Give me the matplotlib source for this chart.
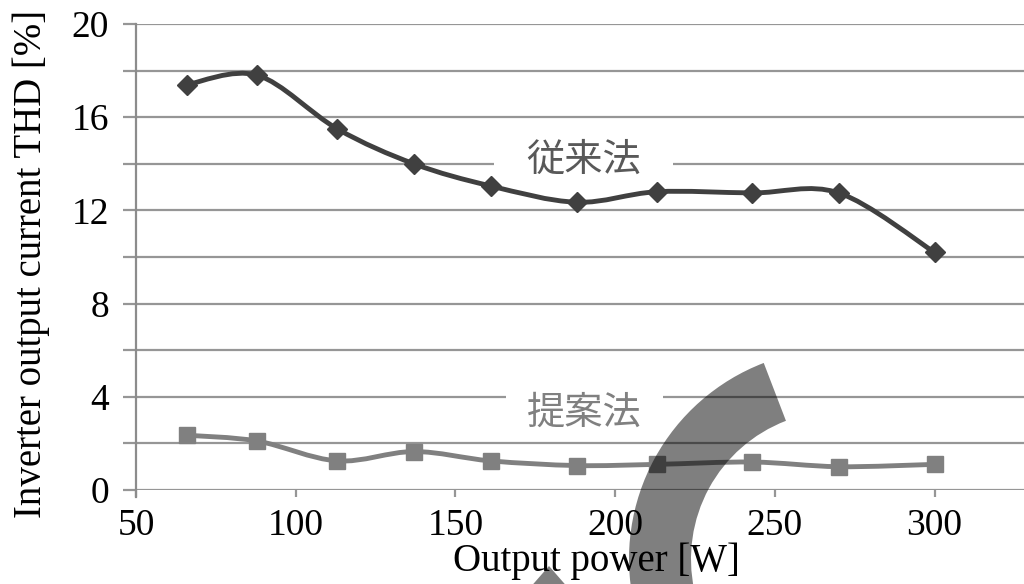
import matplotlib
matplotlib.use("Agg")
import matplotlib.pyplot as plt
from matplotlib.path import Path
from matplotlib.patches import PathPatch, Polygon, Wedge
from matplotlib.transforms import Affine2D

# --- data ---
power = [66, 88, 113, 137, 161, 188, 213, 243, 270, 300]
thd_conventional = [17.4, 17.8, 15.5, 14.0, 13.05, 12.35, 12.8, 12.75, 12.75, 10.2]
thd_proposed = [2.35, 2.1, 1.25, 1.65, 1.25, 1.05, 1.1, 1.2, 1.0, 1.1]
yticks = list(range(0, 21, 2))
xticks = [50, 100, 150, 200, 250, 300]

serif = ["Liberation Serif", "DejaVu Serif"]
cjk = ["Noto Sans CJK JP", "DejaVu Sans"]


def smooth_path(xs, ys):
    # Catmull-Rom style cubic Bezier through the points (like a spreadsheet "smoothed line")
    pts = list(zip(xs, ys))
    verts = [pts[0]]
    codes = [Path.MOVETO]
    n = len(pts)
    for i in range(n - 1):
        p0 = pts[max(i - 1, 0)]
        p1 = pts[i]
        p2 = pts[i + 1]
        p3 = pts[min(i + 2, n - 1)]
        c1 = (p1[0] + (p2[0] - p0[0]) / 6, p1[1] + (p2[1] - p0[1]) / 6)
        c2 = (p2[0] - (p3[0] - p1[0]) / 6, p2[1] - (p3[1] - p1[1]) / 6)
        verts += [c1, c2, p2]
        codes += [Path.CURVE4] * 3
    return Path(verts, codes)


def wide_box(hpad, vpad):
    # white box that is wider than it is padded vertically (only breaks one gridline)
    def box(x0, y0, width, height, mutation_size):
        return Path.unit_rectangle().transformed(
            Affine2D().scale(width + 2 * hpad, height + 2 * vpad)
            .translate(x0 - hpad, y0 - vpad))
    return box


fig = plt.figure(figsize=(10.24, 5.84), dpi=100)
ax = fig.add_axes([136 / 1024, 1 - 490 / 584, 1 - 136 / 1024, (490 - 24) / 584])

ax.set_xlim(50, 328)
ax.set_ylim(0, 20)

ax.set_yticks(yticks)
ax.set_yticklabels([str(v) if v % 4 == 0 else "" for v in yticks])
ax.set_xticks(xticks)

ax.grid(True, axis="y", color="#969696", linewidth=1.6)
ax.set_axisbelow(True)
for name, spine in ax.spines.items():
    spine.set_visible(name == "left")
ax.spines["left"].set_color("#8c8c8c")
ax.spines["left"].set_linewidth(1.6)
ax.spines["left"].set_bounds(-0.3, 20)

ax.tick_params(axis="y", length=9.5, width=1.6, color="#969696", pad=10,
               labelsize=27, labelfontfamily=serif)
ax.tick_params(axis="x", length=5, width=1.6, color="#969696", pad=8,
               labelsize=27, labelfontfamily=serif)

for xs, ys, color, marker, ms in [
    (power, thd_conventional, "#404040", "D", 10),
    (power, thd_proposed, "#808080", "s", 11.5),
]:
    ax.add_patch(PathPatch(smooth_path(xs, ys), facecolor="none", edgecolor=color,
                           linewidth=3.5, capstyle="round", joinstyle="round", zorder=3))
    ax.plot(xs, ys, linestyle="none", marker=marker, markersize=ms, color=color, zorder=4)

ax.text(190.2, 14.15, "従来法", fontsize=27.5, color="#595959", family=cjk,
        ha="center", va="center", zorder=2,
        bbox=dict(boxstyle=wide_box(32, 2), facecolor="white", edgecolor="none"))
ax.text(190.5, 3.3, "提案法", fontsize=27.5, color="#808080", family=cjk,
        ha="center", va="center", zorder=2,
        bbox=dict(boxstyle=wide_box(21, 2), facecolor="white", edgecolor="none"))

ax.set_xlabel("Output power [W]", fontsize=28, family=serif)
ax.xaxis.set_label_coords(0.518, -0.113)
ax.set_ylabel("Inverter output current THD [%]", fontsize=28, family=serif)
ax.yaxis.set_label_coords(-0.097, 0.485)

# translucent curved band and small triangle drawn over the chart (display pixels, y up)
fig.patches.append(Wedge((839, 25), 210, 111, 192, width=62, transform=None,
                         facecolor="black", alpha=0.5, edgecolor="none", zorder=10))
tri = [(549, 566), (528, 590), (570, 590)]
fig.patches.append(Polygon([(x / 1024, 1 - y / 584) for x, y in tri], closed=True,
                           transform=fig.transFigure, facecolor="black", alpha=0.5,
                           edgecolor="none", zorder=10))

fig.savefig("out.png", dpi=100)
